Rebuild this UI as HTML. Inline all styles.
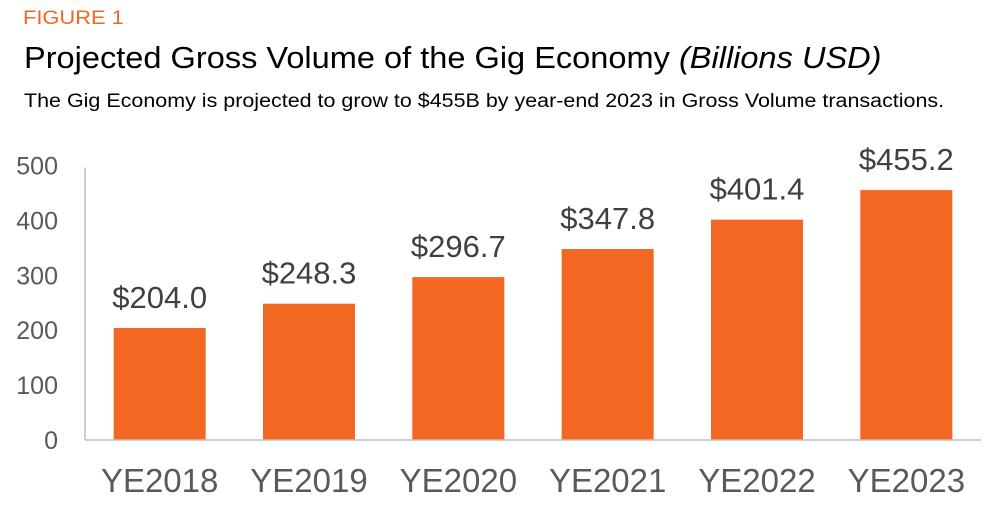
<!DOCTYPE html>
<html><head><meta charset="utf-8"><style>
body{margin:0;width:991px;height:529px;background:#fff;overflow:hidden;font-family:"Liberation Sans",sans-serif;position:relative}
.t{position:absolute;white-space:nowrap;transform-origin:0 0}
</style></head><body>
<div class="t" style="left:23px;top:8px;font-size:19px;color:#F26722;transform:scaleX(1.15)">FIGURE 1</div>
<div class="t" style="left:24px;top:40px;font-size:31px;color:#000;transform:scaleX(1.05)">Projected Gross Volume of the Gig Economy <i>(Billions USD)</i></div>
<div class="t" style="left:24px;top:91px;font-size:19px;color:#000;transform:scaleX(1.13)">The Gig Economy is projected to grow to $455B by year-end 2023 in Gross Volume transactions.</div>
<svg id="c" width="991" height="529" style="position:absolute;left:0;top:0"></svg>
<script>
const categories=["YE2018","YE2019","YE2020","YE2021","YE2022","YE2023"];
const values=[204.0,248.3,296.7,347.8,401.4,455.2];
const valueLabels=["$204.0","$248.3","$296.7","$347.8","$401.4","$455.2"];
const yTicks=[0,100,200,300,400,500];
const svg=document.getElementById('c');const NS='http://www.w3.org/2000/svg';
const x0=85,x1=981,y0=440,yMax=500,yTop=165.5;
const bw=(x1-x0)/categories.length;
const y=v=>y0-(v/yMax)*(y0-yTop);
const xc=i=>x0+bw*(i+0.5);
function mk(tag,a){const e=document.createElementNS(NS,tag);for(const k in a)e.setAttribute(k,a[k]);svg.appendChild(e);return e;}
yTicks.forEach(t=>{const e=mk('text',{x:58,y:y(t)+9,'text-anchor':'end','font-size':25,fill:'#595959','font-family':'Liberation Sans'});e.textContent=t;

});
values.forEach((v,i)=>{
const r=mk('rect',{x:xc(i)-46,y:y(v),width:92,height:y0-y(v),fill:'#F26722'});


const l=mk('text',{x:xc(i),y:y(v)-20,'text-anchor':'middle','font-size':31,fill:'#404040','font-family':'Liberation Sans'});l.textContent=valueLabels[i];


const c=mk('text',{x:xc(i),y:492,'text-anchor':'middle','font-size':33,fill:'#595959','font-family':'Liberation Sans'});c.textContent=categories[i];


});
const ax=mk('line',{x1:x0,y1:yTop+2,x2:x0,y2:y0,stroke:'#bfbfbf','stroke-width':1.5});


const bx=mk('line',{x1:x0,y1:y0,x2:x1,y2:y0,stroke:'#bfbfbf','stroke-width':1.5});


</script>
</body></html>
